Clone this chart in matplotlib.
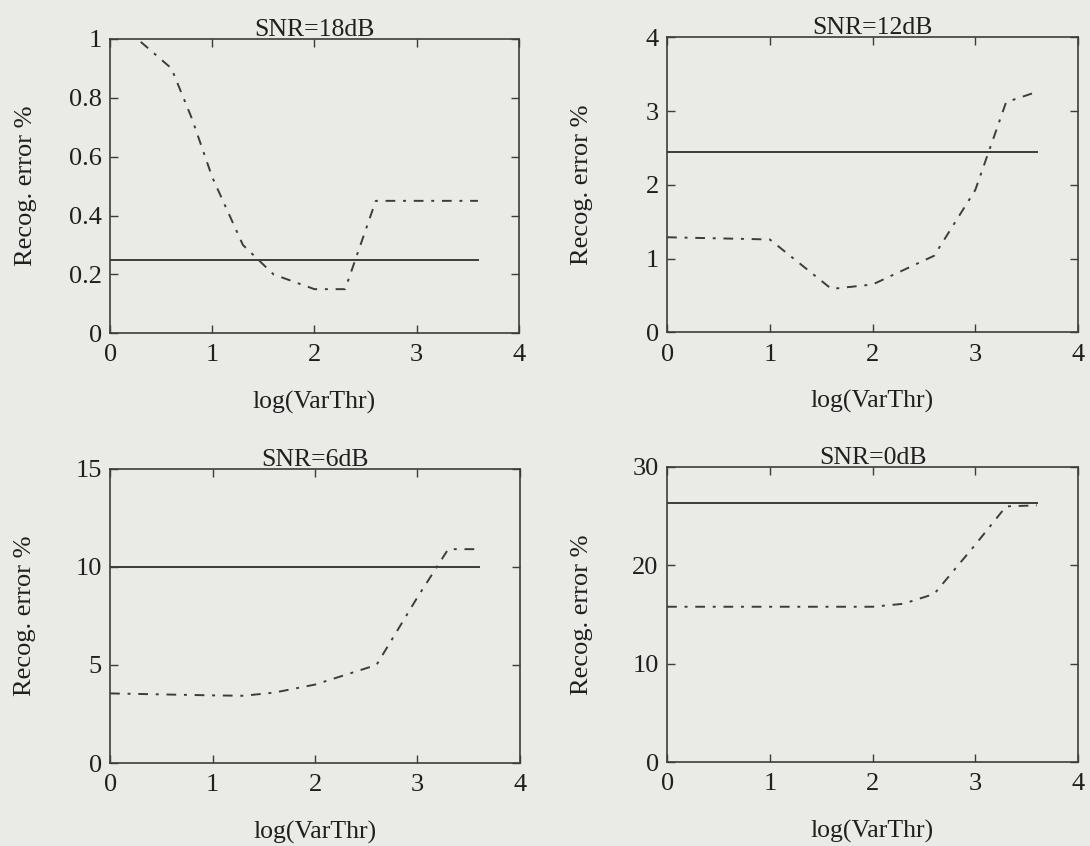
import numpy as np
import matplotlib
matplotlib.use("Agg")
import matplotlib.pyplot as plt

plt.rcParams['font.family'] = ['Liberation Serif', 'DejaVu Serif']
plt.rcParams['font.size'] = 19

# log(VarThr) sample points
x_full = [0.0, 1.0, 1.6, 2.0, 2.6, 3.0, 3.3, 3.6]
x_18 = [0.3, 0.6, 0.8, 1.0, 1.3, 1.6, 2.0, 2.3, 2.6, 3.0, 3.3, 3.6]

# SNR=18dB
err_18 = [0.99, 0.90, 0.73, 0.53, 0.30, 0.20, 0.15, 0.15, 0.45, 0.45, 0.45, 0.45]
base_18 = 0.25
# SNR=12dB
err_12 = [1.29, 1.26, 0.59, 0.65, 1.04, 1.93, 3.12, 3.26]
base_12 = 2.45
# SNR=6dB
x_6 = [0.0, 1.0, 1.3, 1.6, 2.0, 2.6, 3.0, 3.3, 3.6]
err_6 = [3.55, 3.45, 3.43, 3.59, 4.0, 5.0, 8.45, 10.9, 10.9]
base_6 = 10.0
# SNR=0dB
x_0 = [0.0, 1.0, 1.6, 2.0, 2.3, 2.6, 3.0, 3.3, 3.6]
err_0 = [15.8, 15.8, 15.8, 15.8, 16.1, 17.1, 22.1, 26.0, 26.1]
base_0 = 26.3

titles = ["SNR=18dB", "SNR=12dB", "SNR=6dB", "SNR=0dB"]
curves = [(x_18, err_18), (x_full, err_12), (x_6, err_6), (x_0, err_0)]
bases = [base_18, base_12, base_6, base_0]
ylims = [(0, 1), (0, 4), (0, 15), (0, 30)]
yticks = [[0, 0.2, 0.4, 0.6, 0.8, 1], [0, 1, 2, 3, 4], [0, 5, 10, 15], [0, 10, 20, 30]]
ytick_labels = [["0", "0.2", "0.4", "0.6", "0.8", "1"], ["0", "1", "2", "3", "4"],
                ["0", "5", "10", "15"], ["0", "10", "20", "30"]]

bg = '#eaebe6'
ink = '#3a3d3a'
txt = '#1e201e'

fig = plt.figure(figsize=(10.9, 8.46), dpi=100, facecolor=bg)
pos = [[0.101, 0.606, 0.375, 0.348],
       [0.612, 0.607, 0.377, 0.349],
       [0.101, 0.098, 0.376, 0.348],
       [0.612, 0.099, 0.377, 0.349]]

for i in range(4):
    ax = fig.add_axes(pos[i])
    ax.set_facecolor(bg)
    xs, ys = curves[i]
    ax.plot([0, 3.6], [bases[i], bases[i]], color=ink, lw=1.4, ls='-')
    ax.plot(xs, ys, color=ink, lw=1.4, ls=(0, (5, 4, 1.5, 4)))
    ax.set_xlim(0, 4)
    ax.set_ylim(*ylims[i])
    ax.set_xticks([0, 1, 2, 3, 4])
    ax.set_yticks(yticks[i])
    ax.set_yticklabels(ytick_labels[i])
    ax.tick_params(direction='in', top=True, right=True, length=6, width=1,
                   color=ink, labelcolor=txt, pad=6, labelsize=19)
    ax.tick_params(axis='x', pad=8)
    for s in ax.spines.values():
        s.set_color(ink)
        s.set_linewidth(1.2)
    ax.set_title(titles[i], fontsize=18.5, pad=2, color=txt)
    ax.set_xlabel("log(VarThr)", fontsize=18.5, color=txt)
    ax.set_ylabel("Recog. error %", fontsize=19, color=txt)
    ax.xaxis.set_label_coords(0.5, -0.195)
    ax.yaxis.set_label_coords(-0.18, 0.5)

fig.savefig("out.png", dpi=100, facecolor=bg)
